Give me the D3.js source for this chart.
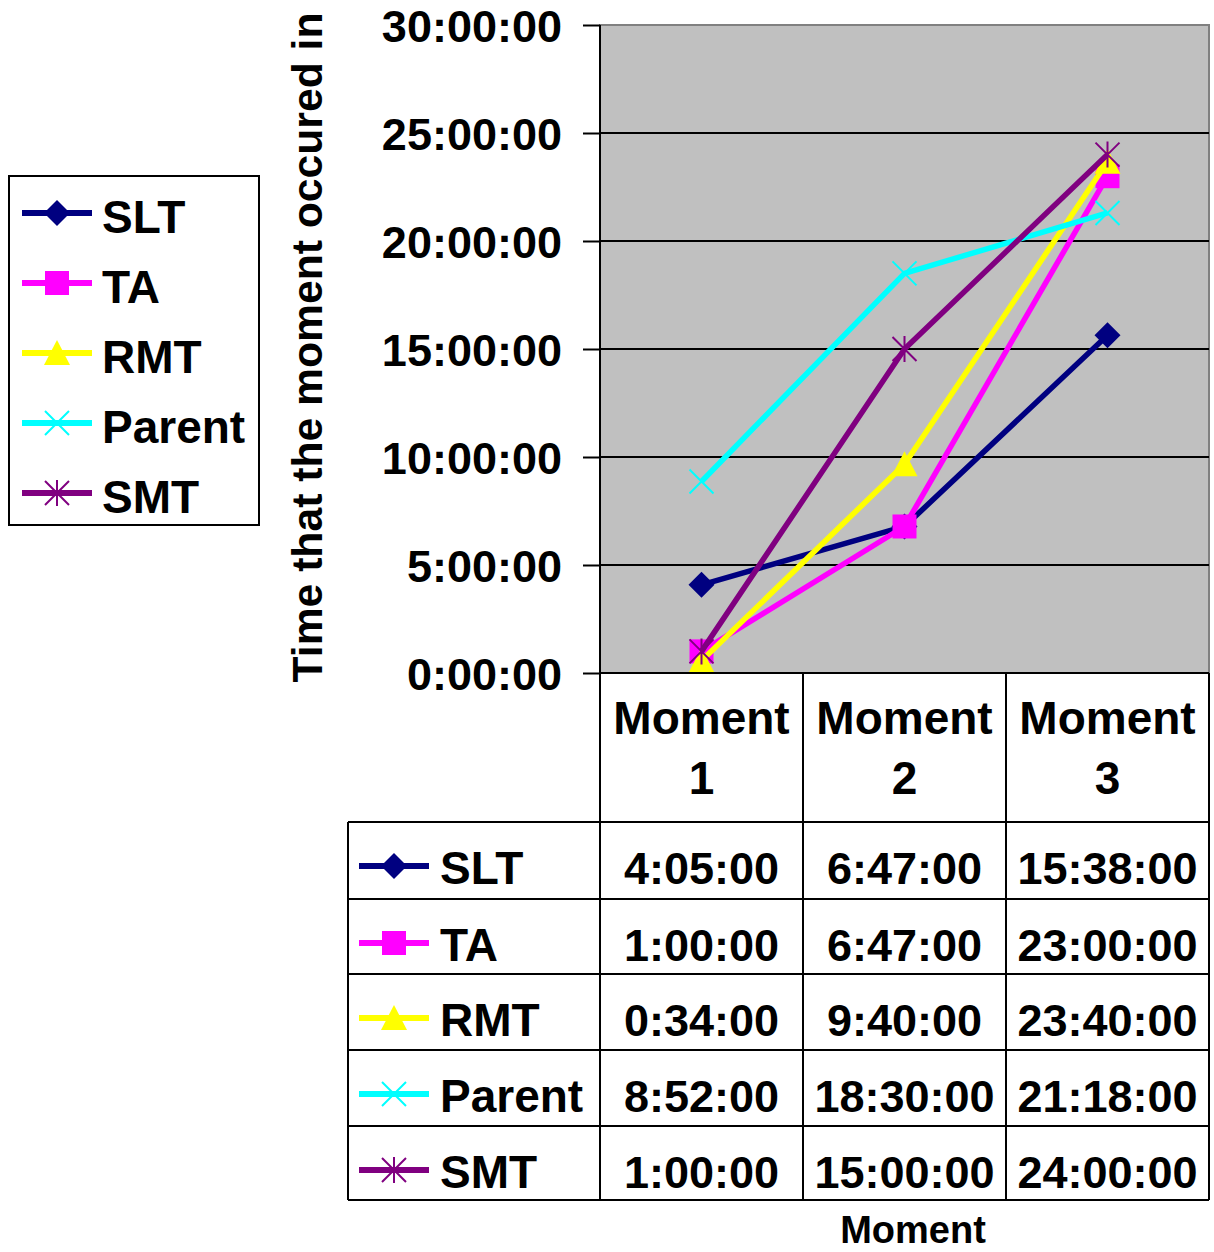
<!DOCTYPE html>
<html>
<head>
<meta charset="utf-8">
<script src="https://cdn.jsdelivr.net/npm/d3@7/dist/d3.min.js"></script>
<style>
  html, body { margin: 0; padding: 0; background: #fff; }
  svg { display: block; }
  text { font-family: "Liberation Sans", Arial, sans-serif; font-weight: bold; fill: #000; }
</style>
</head>
<body>
<svg id="chart" width="1214" height="1252"></svg>
<script>
// ---- data ----
const categories = ["Moment 1", "Moment 2", "Moment 3"];
const seriesNames = ["SLT", "TA", "RMT", "Parent", "SMT"];
const SLT    = ["4:05:00", "6:47:00", "15:38:00"];
const TA     = ["1:00:00", "6:47:00", "23:00:00"];
const RMT    = ["0:34:00", "9:40:00", "23:40:00"];
const Parent = ["8:52:00", "18:30:00", "21:18:00"];
const SMT    = ["1:00:00", "15:00:00", "24:00:00"];
const yTickValues = [0, 5, 10, 15, 20, 25, 30];
const yTickLabels = ["0:00:00", "5:00:00", "10:00:00", "15:00:00", "20:00:00", "25:00:00", "30:00:00"];
const seriesColors = ["#000080", "#FF00FF", "#FFFF00", "#00FFFF", "#800080"];
const seriesMarkers = ["diamond", "square", "triangle", "x", "star"];
const yTitle = "Time that the moment occured in";
const xTitle = "Moment";

const seriesValues = [SLT, TA, RMT, Parent, SMT];
function toHours(s) { const p = s.split(":").map(Number); return p[0] + p[1] / 60 + p[2] / 3600; }

// ---- layout ----
const svg = d3.select("#chart");
const plot = { left: 600, right: 1209, top: 25, bottom: 673 };
const tableLeft = 348;
const rowEdges = [822, 899, 974, 1050, 1126, 1200];

const x = d3.scaleBand().domain(categories).range([plot.left, plot.right]);
const y = d3.scaleLinear().domain([0, 30]).range([plot.bottom, plot.top]);

// plot background
svg.append("rect")
  .attr("x", plot.left).attr("y", plot.top)
  .attr("width", plot.right - plot.left).attr("height", plot.bottom - plot.top)
  .attr("fill", "#C0C0C0").attr("stroke", "#808080").attr("stroke-width", 2);

// gridlines
svg.append("g").selectAll("line").data(yTickValues.filter(v => v > 0 && v < 30)).join("line")
  .attr("x1", plot.left).attr("x2", plot.right)
  .attr("y1", d => y(d)).attr("y2", d => y(d))
  .attr("stroke", "#000").attr("stroke-width", 2);

// y axis
const yAxis = d3.axisLeft(y).tickValues(yTickValues)
  .tickFormat((d, i) => yTickLabels[i]).tickSize(17).tickPadding(21);
const gy = svg.append("g").attr("transform", `translate(${plot.left},0)`).call(yAxis);
gy.select(".domain").attr("stroke", "#000").attr("stroke-width", 2)
  .attr("d", `M0,${plot.top}V${plot.bottom}`);
gy.selectAll(".tick line").attr("stroke", "#000").attr("stroke-width", 2);
gy.selectAll(".tick text")
  .attr("font-size", 45).attr("font-weight", "bold")
  .attr("font-family", '"Liberation Sans", Arial, sans-serif')
  .attr("fill", "#000").attr("dy", "0.36em");

// y title
svg.append("text")
  .attr("transform", `translate(322,${(12 + 683) / 2}) rotate(-90)`)
  .attr("text-anchor", "middle").attr("font-size", 42)
  .attr("textLength", 670).attr("lengthAdjust", "spacingAndGlyphs")
  .text(yTitle);

// marker drawing
function drawMarker(g, type, color, cx, cy) {
  const m = g.append("g").attr("transform", `translate(${cx},${cy})`);
  if (type === "diamond") {
    m.append("path").attr("d", "M0,-13L13,0L0,13L-13,0Z").attr("fill", color);
  } else if (type === "square") {
    m.append("rect").attr("x", -12).attr("y", -12).attr("width", 24).attr("height", 24).attr("fill", color);
  } else if (type === "triangle") {
    m.append("path").attr("d", "M0,-13L13,12L-13,12Z").attr("fill", color);
  } else if (type === "x") {
    m.append("path").attr("d", "M-12,-12L12,12M-12,12L12,-12").attr("stroke", color).attr("stroke-width", 2).attr("fill", "none");
  } else if (type === "star") {
    m.append("path").attr("d", "M-12,-12L12,12M-12,12L12,-12M0,-13L0,13").attr("stroke", color).attr("stroke-width", 2).attr("fill", "none");
  }
}

// series lines and markers
const line = d3.line().x(d => x(d.c) + x.bandwidth() / 2).y(d => y(d.v));
const gSeries = svg.append("g");
seriesNames.forEach((name, i) => {
  const pts = categories.map((c, j) => ({ c, v: toHours(seriesValues[i][j]) }));
  const g = gSeries.append("g");
  g.append("path").datum(pts).attr("d", line)
    .attr("fill", "none").attr("stroke", seriesColors[i]).attr("stroke-width", 5.5)
    .attr("stroke-linejoin", "round");
  pts.forEach(p => drawMarker(g, seriesMarkers[i], seriesColors[i], x(p.c) + x.bandwidth() / 2, y(p.v)));
});

// ---- data table ----
const gt = svg.append("g");
const colEdges = categories.map(c => x(c)).concat([plot.right]);
colEdges.forEach(cx => {
  gt.append("line").attr("x1", cx).attr("x2", cx).attr("y1", plot.bottom).attr("y2", rowEdges[rowEdges.length - 1])
    .attr("stroke", "#000").attr("stroke-width", 2);
});
gt.append("line").attr("x1", tableLeft).attr("x2", tableLeft).attr("y1", rowEdges[0]).attr("y2", rowEdges[rowEdges.length - 1])
  .attr("stroke", "#000").attr("stroke-width", 2);
gt.append("line").attr("x1", plot.left).attr("x2", plot.right).attr("y1", plot.bottom).attr("y2", plot.bottom)
  .attr("stroke", "#000").attr("stroke-width", 2);
rowEdges.forEach(ry => {
  gt.append("line").attr("x1", tableLeft).attr("x2", plot.right).attr("y1", ry).attr("y2", ry)
    .attr("stroke", "#000").attr("stroke-width", 2);
});
categories.forEach(c => {
  const parts = c.split(" ");
  const cx = x(c) + x.bandwidth() / 2;
  gt.append("text").attr("x", cx).attr("y", 734).attr("text-anchor", "middle").attr("font-size", 46).text(parts[0]);
  gt.append("text").attr("x", cx).attr("y", 794).attr("text-anchor", "middle").attr("font-size", 46).text(parts[1]);
});
seriesNames.forEach((name, i) => {
  const top = rowEdges[i];
  const ky = top + 44;
  gt.append("line").attr("x1", 359).attr("x2", 429).attr("y1", ky).attr("y2", ky)
    .attr("stroke", seriesColors[i]).attr("stroke-width", 6);
  drawMarker(gt, seriesMarkers[i], seriesColors[i], 394, ky);
  gt.append("text").attr("x", 440).attr("y", top + 62).attr("font-size", 46).text(name);
  categories.forEach((c, j) => {
    gt.append("text").attr("x", x(c) + x.bandwidth() / 2).attr("y", top + 62)
      .attr("text-anchor", "middle").attr("font-size", 45).text(seriesValues[i][j]);
  });
});

// x title
svg.append("text").attr("x", 913).attr("y", 1243).attr("text-anchor", "middle").attr("font-size", 38).text(xTitle);

// ---- legend ----
const gl = svg.append("g");
gl.append("rect").attr("x", 9).attr("y", 176).attr("width", 250).attr("height", 349)
  .attr("fill", "#fff").attr("stroke", "#000").attr("stroke-width", 2);
const legendY = [213, 283, 353, 423, 493];
seriesNames.forEach((name, i) => {
  const ly = legendY[i];
  gl.append("line").attr("x1", 22).attr("x2", 92).attr("y1", ly).attr("y2", ly)
    .attr("stroke", seriesColors[i]).attr("stroke-width", 6);
  drawMarker(gl, seriesMarkers[i], seriesColors[i], 57, ly);
  gl.append("text").attr("x", 102).attr("y", ly + 20).attr("font-size", 46).text(name);
});
</script>
</body>
</html>
